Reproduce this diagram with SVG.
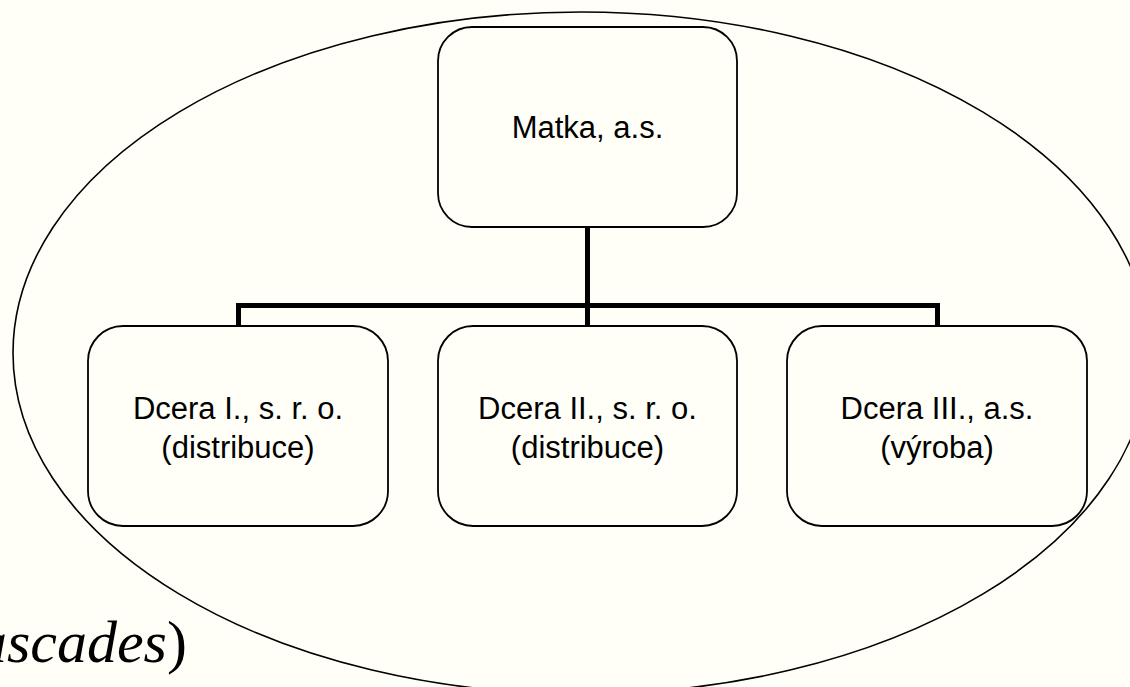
<svg xmlns="http://www.w3.org/2000/svg" width="1130" height="687" viewBox="0 0 1130 687">
  <style>
    .box { fill: none; stroke: #000; stroke-width: 1.8; }
    .lbl { font-family: "Liberation Sans", Arial, sans-serif; font-size: 31px; fill: #000; text-anchor: middle; }
    .conn { fill: none; stroke: #000; stroke-width: 5; stroke-linejoin: miter; }
  </style>
  <rect width="1130" height="687" fill="#FFFFF7"/>
  <g id="connectors">
    <path class="conn" d="M587.5 227 V326"/>
    <path class="conn" d="M238.5 326 V305.5 H937.5 V326"/>
  </g>
  <g id="node-matka">
    <rect class="box" x="438" y="27" width="299" height="200" rx="34" ry="34"/>
    <text class="lbl" x="587.5" y="138">Matka, a.s.</text>
  </g>
  <g id="node-dcera1">
    <rect class="box" x="88" y="326" width="300" height="200" rx="35" ry="35"/>
    <text class="lbl" x="238" y="419">Dcera I., s. r. o.</text>
    <text class="lbl" x="238" y="458">(distribuce)</text>
  </g>
  <g id="node-dcera2">
    <rect class="box" x="438" y="326" width="299" height="200" rx="35" ry="35"/>
    <text class="lbl" x="587.5" y="419">Dcera II., s. r. o.</text>
    <text class="lbl" x="587.5" y="458">(distribuce)</text>
  </g>
  <g id="node-dcera3">
    <rect class="box" x="787" y="326" width="300" height="200" rx="35" ry="35"/>
    <text class="lbl" x="937" y="419">Dcera III., a.s.</text>
    <text class="lbl" x="937" y="458">(výroba)</text>
  </g>
  <g id="group-ellipse">
    <ellipse cx="581" cy="353" rx="568" ry="341" fill="none" stroke="#000" stroke-width="1.6"/>
  </g>
  <text x="-23" y="662" font-family="'Liberation Serif', 'Times New Roman', serif" font-size="60px" fill="#000"><tspan font-style="italic">ascades</tspan>)</text>
</svg>
